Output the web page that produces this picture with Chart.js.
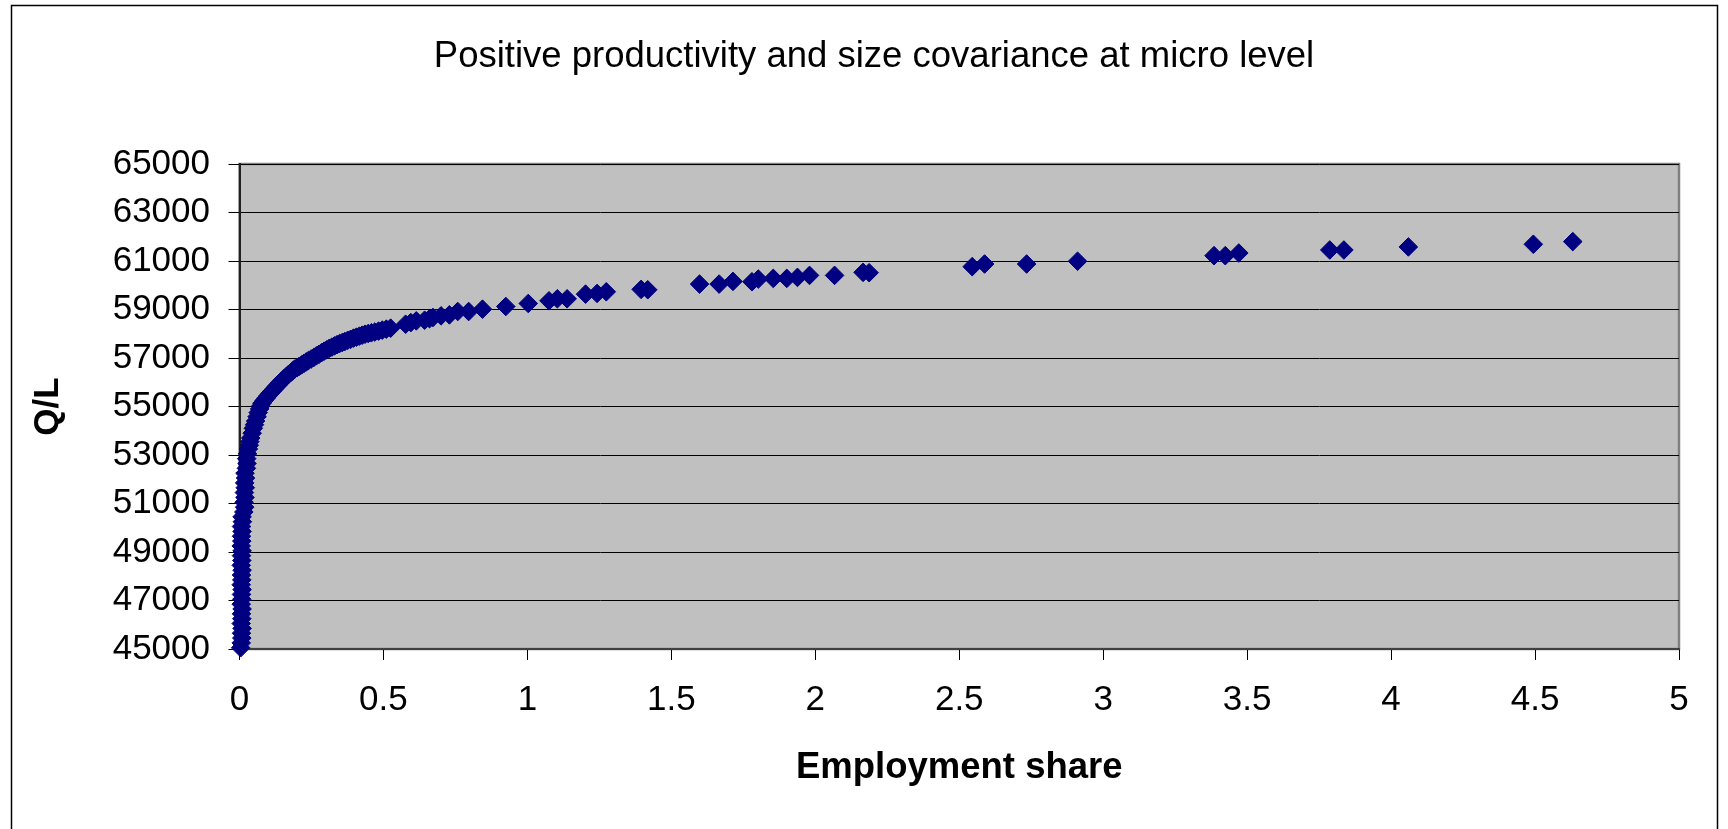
<!DOCTYPE html>
<html>
<head>
<meta charset="utf-8">
<script src="https://cdn.jsdelivr.net/npm/chart.js"></script>
<style>
  html, body { margin: 0; padding: 0; background: #ffffff; }
  #wrap { position: relative; width: 1728px; height: 829px; }
</style>
</head>
<body>
<div id="wrap"><canvas id="c"></canvas></div>
<script>
// ---- data ----
const chartTitle = 'Positive productivity and size covariance at micro level';
const xTitle = 'Employment share';
const yTitle = 'Q/L';
const xRange = [0, 5];
const xStep = 0.5;
const yRange = [45000, 65000];
const yStep = 2000;

const empShare = [
  0.004, 0.006, 0.008, 0.007, 0.009, 0.006, 0.008, 0.007, 0.009, 0.006,
  0.008, 0.007, 0.009, 0.006, 0.008, 0.007, 0.009, 0.006, 0.008, 0.007,
  0.009, 0.006, 0.008, 0.007, 0.009, 0.007, 0.010, 0.009,
  0.015, 0.018, 0.016, 0.019, 0.017, 0.020, 0.018, 0.021, 0.019,
  0.024, 0.026, 0.025, 0.028,
  0.031, 0.034, 0.036, 0.039,
  0.044, 0.048, 0.052, 0.056, 0.061, 0.065, 0.070, 0.074, 0.078, 0.085,
  0.092, 0.099, 0.106, 0.113, 0.120, 0.127, 0.134, 0.141, 0.148, 0.155,
  0.163, 0.170, 0.178, 0.185, 0.192, 0.200, 0.208, 0.216, 0.224, 0.232,
  0.240, 0.249, 0.258, 0.267, 0.276, 0.285, 0.294, 0.303, 0.312, 0.321,
  0.330, 0.339, 0.348, 0.357, 0.366, 0.376, 0.386, 0.396, 0.406, 0.416,
  0.426, 0.436, 0.447, 0.458, 0.470, 0.483, 0.496, 0.510, 0.525,
  0.577, 0.595, 0.614, 0.643, 0.660, 0.672, 0.700, 0.729, 0.758, 0.796,
  0.844, 0.925, 1.003, 1.075, 1.104, 1.138, 1.202, 1.242, 1.274, 1.395, 1.418,
  1.598, 1.666, 1.714, 1.780, 1.802, 1.854, 1.901, 1.938, 1.980, 2.067,
  2.166, 2.187, 2.545, 2.588, 2.734, 2.911, 3.385, 3.424, 3.471, 3.787,
  3.836, 4.060, 4.494, 4.631
];

const qPerL = [
  45050, 45250, 45450, 45650, 45850, 46050, 46250, 46450, 46650, 46850,
  47050, 47250, 47450, 47650, 47850, 48050, 48250, 48450, 48650, 48850,
  49050, 49250, 49450, 49650, 49850, 50050, 50250, 50450,
  50650, 50850, 51050, 51250, 51450, 51650, 51850, 52050, 52250,
  52450, 52650, 52850, 53050,
  53250, 53400, 53550, 53700,
  53900, 54100, 54250, 54400, 54580, 54750, 54900, 55020, 55130, 55240,
  55340, 55440, 55540, 55630, 55720, 55810, 55890, 55980, 56070, 56150,
  56240, 56320, 56400, 56470, 56545, 56600, 56660, 56720, 56780, 56840,
  56900, 56960, 57020, 57090, 57150, 57220, 57280, 57340, 57400, 57450,
  57500, 57550, 57600, 57640, 57680, 57730, 57770, 57820, 57860, 57900,
  57940, 57980, 58010, 58040, 58070, 58110, 58150, 58190, 58230,
  58393, 58460, 58531, 58559, 58620, 58669, 58738, 58779, 58917, 58917,
  59014, 59124, 59248, 59359, 59441, 59441, 59634, 59662, 59731, 59830, 59815,
  60048, 60048, 60159, 60145, 60255, 60283, 60283, 60324, 60407, 60407,
  60531, 60517, 60766, 60876, 60876, 60990, 61220, 61220, 61330, 61455,
  61455, 61580, 61690, 61800
];

const points = empShare.map((x, i) => ({ x: x, y: qPerL[i] }));

const FONT = "'Liberation Sans', Arial, sans-serif";

const framePlugin = {
  id: 'framePlugin',
  beforeDraw(chart) {
    const ctx = chart.ctx;
    const a = chart.chartArea;
    ctx.save();
    // outer frame
    ctx.strokeStyle = '#000000';
    ctx.lineWidth = 1.5;
    ctx.strokeRect(11.5, 5.5, 1706, 840);
    // plot area background
    ctx.fillStyle = '#c0c0c0';
    ctx.fillRect(a.left, a.top, a.right - a.left, a.bottom - a.top);
    ctx.strokeStyle = '#808080';
    ctx.lineWidth = 2.5;
    ctx.strokeRect(a.left, a.top, a.right - a.left, a.bottom - a.top);
    ctx.restore();
  }
};

new Chart(document.getElementById('c'), {
  type: 'scatter',
  data: {
    datasets: [{
      data: points,
      pointStyle: 'rectRot',
      pointRadius: 9.3,
      pointHoverRadius: 9.3,
      borderWidth: 1,
      backgroundColor: '#000080',
      borderColor: '#000080',
      clip: false
    }]
  },
  options: {
    responsive: true,
    maintainAspectRatio: false,
    devicePixelRatio: 1,
    animation: false,
    events: [],
    layout: { padding: { left: 69, right: 49, top: 10, bottom: 30 } },
    plugins: {
      legend: { display: false },
      tooltip: { enabled: false },
      title: {
        display: true,
        text: chartTitle,
        color: '#000000',
        font: { family: FONT, size: 36.5, weight: 'normal' },
        padding: { top: 25, bottom: 85.2 }
      }
    },
    scales: {
      x: {
        type: 'linear',
        min: xRange[0],
        max: xRange[1],
        afterFit(scale) { scale.height = 150; },
        ticks: {
          stepSize: xStep,
          color: '#000000',
          padding: 19,
          maxRotation: 0,
          font: { family: FONT, size: 35 },
          callback: (v) => String(Math.round(v * 100) / 100)
        },
        grid: {
          drawOnChartArea: false,
          drawTicks: true,
          tickLength: 11,
          color: '#000000',
          lineWidth: 1
        },
        border: { display: true, color: '#404040', width: 2 },
        title: {
          display: true,
          text: xTitle,
          color: '#000000',
          font: { family: FONT, size: 36.5, weight: 'bold' },
          padding: { top: 0, bottom: 9 }
        }
      },
      y: {
        type: 'linear',
        min: yRange[0],
        max: yRange[1],
        afterFit(scale) { scale.width = 170.5; },
        ticks: {
          stepSize: yStep,
          color: '#000000',
          padding: 18.5,
          font: { family: FONT, size: 35 },
          callback: (v) => String(v)
        },
        grid: {
          drawOnChartArea: true,
          drawTicks: true,
          tickLength: 11,
          color: '#000000',
          lineWidth: 1
        },
        border: { display: true, color: '#202020', width: 2 },
        title: {
          display: true,
          text: yTitle,
          color: '#000000',
          font: { family: FONT, size: 35, weight: 'bold' },
          padding: { top: -41.5, bottom: 0 }
        }
      }
    }
  },
  plugins: [framePlugin]
});
</script>
</body>
</html>
